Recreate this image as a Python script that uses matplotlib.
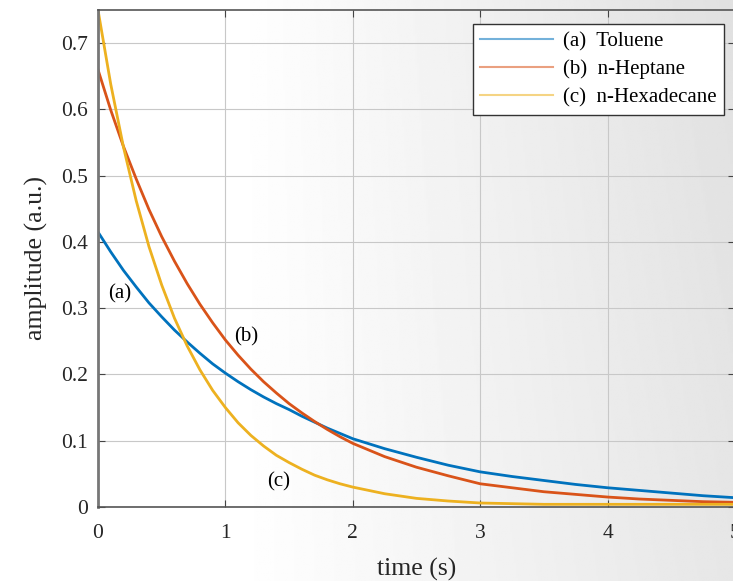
import matplotlib
matplotlib.use("Agg")
import matplotlib.pyplot as plt
import numpy as np

# sampled decay traces (time in s, amplitude in a.u.)
t_early = [0.0, 0.1, 0.2, 0.3, 0.4, 0.5, 0.6, 0.7, 0.8, 0.9, 1.0,
           1.1, 1.2, 1.3, 1.4, 1.5, 1.6, 1.7, 1.8, 1.9]
t_late = [2.0, 2.25, 2.5, 2.75, 3.0, 3.25, 3.5, 3.75, 4.0, 4.25, 4.5, 4.75, 5.0]
time = t_early + t_late

toluene = [0.415, 0.385, 0.357, 0.332, 0.308, 0.287, 0.267, 0.249, 0.232, 0.216, 0.202,
           0.189, 0.177, 0.166, 0.156, 0.147, 0.137, 0.128, 0.119, 0.111,
           0.103, 0.088, 0.075, 0.063, 0.053, 0.046, 0.040, 0.034, 0.029, 0.025, 0.021, 0.017, 0.014]
heptane = [0.660, 0.599, 0.544, 0.495, 0.449, 0.408, 0.371, 0.337, 0.306, 0.278, 0.252,
           0.229, 0.208, 0.189, 0.172, 0.156, 0.142, 0.129, 0.117, 0.106,
           0.096, 0.076, 0.060, 0.047, 0.035, 0.029, 0.023, 0.019, 0.015, 0.012, 0.010, 0.008, 0.007]
hexadecane = [0.750, 0.638, 0.543, 0.462, 0.393, 0.335, 0.285, 0.243, 0.207, 0.176, 0.150,
              0.127, 0.108, 0.092, 0.078, 0.067, 0.057, 0.048, 0.041, 0.035,
              0.030, 0.020, 0.013, 0.009, 0.006, 0.005, 0.004, 0.004, 0.004, 0.004, 0.004, 0.004, 0.004]

legend_labels = ["(a)  Toluene", "(b)  n-Heptane", "(c)  n-Hexadecane"]
colors = ["#0072BD", "#D95319", "#EDB120"]

plt.rcParams["font.family"] = ["Liberation Serif", "DejaVu Serif"]

fig = plt.figure(figsize=(7.33, 5.81), dpi=100)

# ---- BACKGROUND GRADIENT ----
bg = fig.add_axes([0, 0, 1, 1], zorder=-1)
xx = np.linspace(0, 1, 400)
yy = np.linspace(0, 1, 300)
X, Y = np.meshgrid(xx, yy)
shade = 1.0 - 0.12 * np.clip((X - 0.32) / 0.68, 0, 1) * (0.8 + 0.2 * Y)
bg.imshow(shade, cmap="gray", vmin=0, vmax=1, aspect="auto", origin="lower",
          extent=[0, 1, 0, 1])
bg.axis("off")

ax = fig.add_axes([0.1337, 0.1274, 0.869, 0.8554])
ax.patch.set_alpha(0)

for y, c, lab in zip([toluene, heptane, hexadecane], colors, legend_labels):
    ax.plot(time, y, color=c, linewidth=2.0, label=lab)

ax.set_xlim(0, 5)
ax.set_ylim(0, 0.75)
ax.set_xticks([0, 1, 2, 3, 4, 5])
ax.set_yticks([0, 0.1, 0.2, 0.3, 0.4, 0.5, 0.6, 0.7])
ax.set_yticklabels(["0", "0.1", "0.2", "0.3", "0.4", "0.5", "0.6", "0.7"])
ax.tick_params(direction="in", top=True, right=True, labelsize=15.5, length=5,
               color="#444444", labelcolor="#262626")
ax.tick_params(axis="x", pad=12)
ax.tick_params(axis="y", pad=7)
ax.grid(True, color="#c8c8c8", linewidth=0.8)
for s in ax.spines.values():
    s.set_color("#555555")
    s.set_linewidth(1.2)
ax.spines["left"].set_color("#777777")
ax.spines["left"].set_linewidth(2)

ax.set_xlabel("time (s)", fontsize=18.5, color="#262626", labelpad=11)
ax.set_ylabel("amplitude (a.u.)", fontsize=18.5, color="#262626", labelpad=10)

# curve tags
ax.text(0.08, 0.322, "(a)", fontsize=15, va="center")
ax.text(1.07, 0.256, "(b)", fontsize=15, va="center")
ax.text(1.33, 0.038, "(c)", fontsize=15, va="center")

leg = ax.legend(loc="upper right", bbox_to_anchor=(0.983, 0.971), fontsize=15,
                handlelength=3.5, fancybox=False, edgecolor="#333333",
                framealpha=1, borderpad=0.35, labelspacing=0.4, handletextpad=0.5,
                borderaxespad=0)
for line in leg.get_lines():
    line.set_alpha(0.55)
    line.set_linewidth(1.5)
leg.get_frame().set_linewidth(1.0)

fig.savefig("out.png", dpi=100)
